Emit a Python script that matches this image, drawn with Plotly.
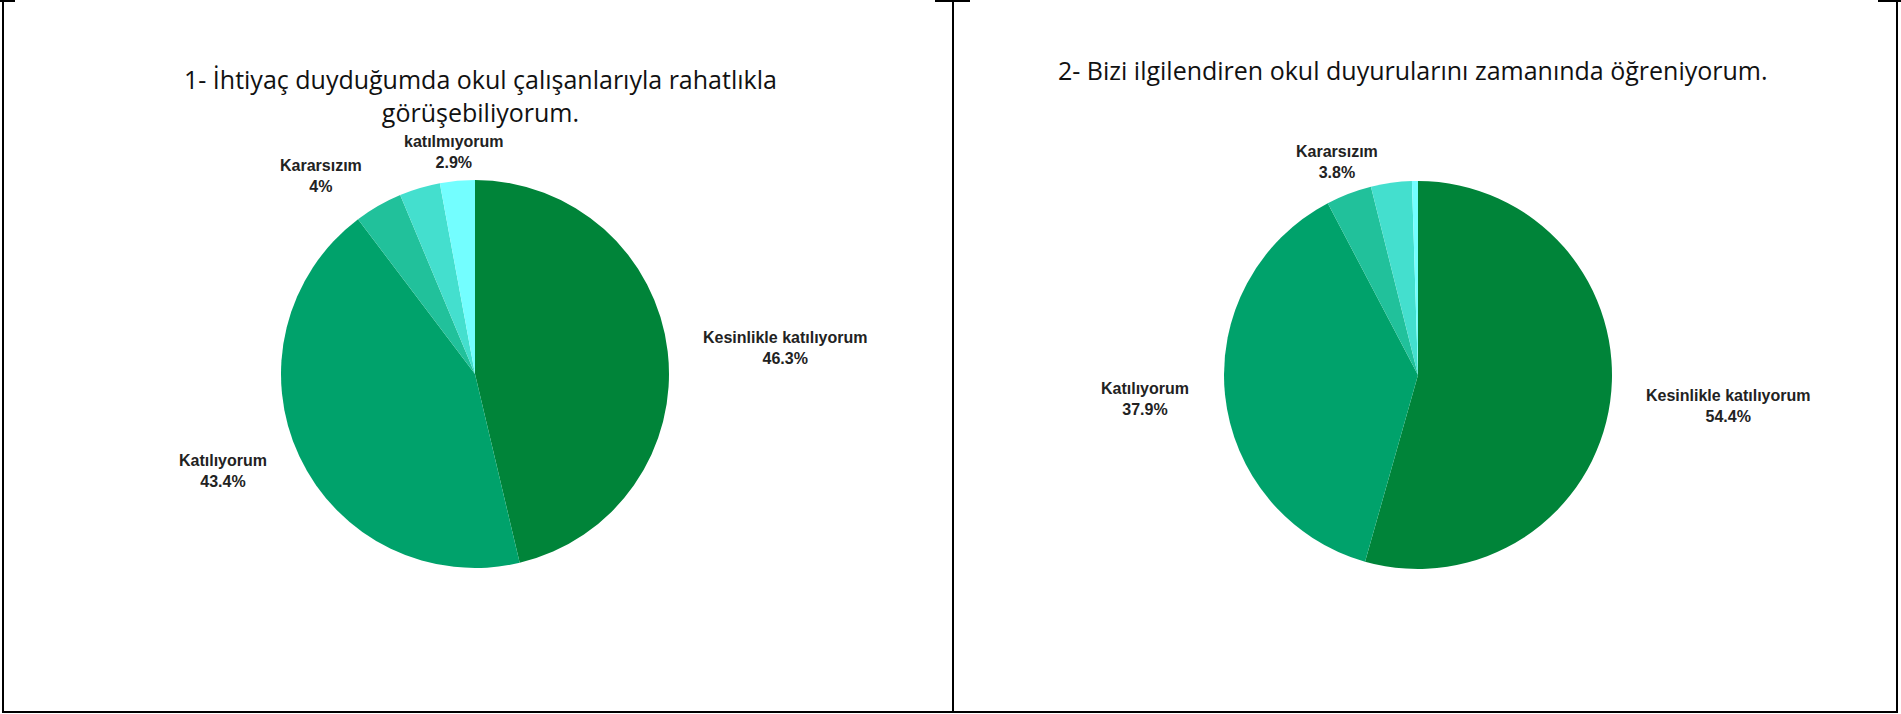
import math
import plotly.graph_objects as go

W, H = 1901, 714

# ---- data ----
categories = ["Kesinlikle katılıyorum", "Katılıyorum", "Kararsızım",
              "Kesinlikle katılmıyorum", "katılmıyorum"]
q1_values = [46.3, 43.4, 4.0, 3.4, 2.9]
q2_values = [54.4, 37.9, 3.8, 3.4, 0.5]
q1_title = "1- İhtiyaç duyduğumda okul çalışanlarıyla rahatlıkla<br>görüşebiliyorum."
q2_title = "2- Bizi ilgilendiren okul duyurularını zamanında öğreniyorum."
q1_shown = [True, True, True, False, True]
q2_shown = [True, True, True, False, False]

colors = ["#008439", "#00A26B", "#21C19B", "#44DFCE", "#73FEFF"]

# ---- layout geometry (pixels) ----
pies = [
    dict(values=q1_values, shown=q1_shown, cx=475, cy=374, r=194,
         title=q1_title, ty=131, tanchor="bottom", tx=480,
         xshift={2: -40}, yshift={4: -5}),
    dict(values=q2_values, shown=q2_shown, cx=1418, cy=375, r=194,
         title=q2_title, ty=70, tanchor="middle", tx=1413,
         xshift={}, yshift={}),
]
LABEL_D = 228

def px(x):
    return x / W

def py(y):
    return 1 - y / H

fig = go.Figure()
annotations = []
for p in pies:
    cx, cy, r = p["cx"], p["cy"], p["r"]
    fig.add_trace(go.Pie(
        labels=categories, values=p["values"], sort=False,
        direction="clockwise", rotation=0,
        marker=dict(colors=colors, line=dict(width=0)),
        textinfo="none", hoverinfo="label+percent", showlegend=False,
        domain=dict(x=[px(cx - r), px(cx + r)], y=[py(cy + r), py(cy - r)]),
    ))
    total = sum(p["values"])
    cum = 0
    for i, v in enumerate(p["values"]):
        mid = (cum + v / 2) / total * 2 * math.pi
        cum += v
        if not p["shown"][i]:
            continue
        dx, dy = math.sin(mid), -math.cos(mid)
        ax, ay = cx + LABEL_D * dx, cy + LABEL_D * dy
        if abs(dx) > 0.8:
            xa = "left" if dx > 0 else "right"
        else:
            xa = "center"
        pct = f"{v:g}%"
        annotations.append(dict(
            x=px(ax), y=py(ay), xref="paper", yref="paper",
            text=f"<b>{categories[i]}<br>{pct}</b>", showarrow=False,
            xanchor=xa, yanchor="middle", align="center",
            xshift=p["xshift"].get(i, 0), yshift=p["yshift"].get(i, 0),
            font=dict(family="Liberation Sans, Arial", size=16, color="#222222"),
        ))
    annotations.append(dict(
        x=px(p["tx"]), y=py(p["ty"]), xref="paper", yref="paper",
        text=p["title"], showarrow=False, xanchor="center", yanchor=p["tanchor"],
        align="center",
        font=dict(family="Open Sans", size=25, color="#111111"),
    ))

# panel borders
shapes = []
def vline(x, y0, y1):
    shapes.append(dict(type="line", xref="paper", yref="paper",
                       x0=px(x), x1=px(x), y0=py(y0), y1=py(y1),
                       line=dict(color="black", width=2)))
def hline(y, x0, x1):
    shapes.append(dict(type="line", xref="paper", yref="paper",
                       x0=px(x0), x1=px(x1), y0=py(y), y1=py(y),
                       line=dict(color="black", width=2)))
vline(3, 0, 713)
vline(953, 0, 713)
vline(1897, 0, 713)
hline(712, 3, 1897)
hline(1, 0, 15)
hline(1, 935, 970)
hline(1, 1878, 1901)

fig.update_layout(
    width=W, height=H, margin=dict(l=0, r=0, t=0, b=0),
    paper_bgcolor="white", plot_bgcolor="white",
    annotations=annotations, shapes=shapes,
)
fig.write_html("out.html", config={"displayModeBar": False},
               post_script="document.body.style.margin='0';document.body.style.overflow='hidden';")
